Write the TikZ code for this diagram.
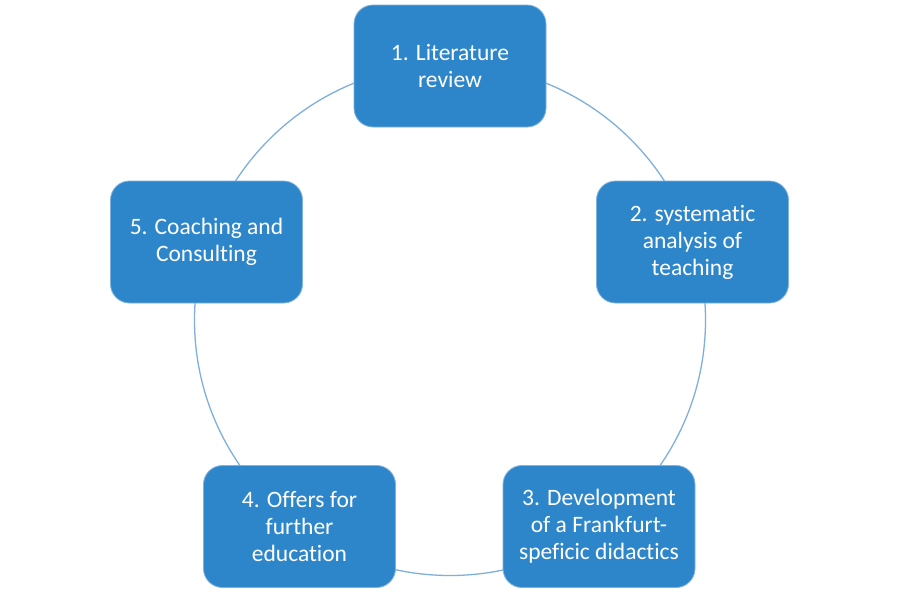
\documentclass[tikz,border=0pt]{standalone}
\usepackage{fontspec}
\setmainfont[Ligatures={NoCommon}]{Carlito}
\begin{document}
\begin{tikzpicture}[x=1pt,y=-1pt,
  stepbox/.style={rectangle, rounded corners=19pt, fill=boxblue, draw=boxedge, line width=0.8pt,
    minimum width=192pt, minimum height=122pt, text=white, align=center,
    font=\fontsize{23.5pt}{27pt}\selectfont, inner sep=0pt},
  ring/.style={draw=ringblue, line width=1.3pt}]
\definecolor{boxblue}{HTML}{2E86CA}
\definecolor{boxedge}{HTML}{7FB2DE}
\definecolor{ringblue}{HTML}{7FB0DC}
\useasboundingbox (0,0) rectangle (898,600);
\fill[white] (0,0) rectangle (898,600);
\coordinate (c) at (450,320);
\draw[ring] (c) circle[radius=255.5pt];
\node[stepbox] (s1) at (450,66) {1. Literature\\review};
\node[stepbox] (s2) at (692.5,242) {2. systematic\\analysis of\\teaching};
\node[stepbox] (s3) at (599,526.5) {3. Development\\of a Frankfurt-\\speficic didactics};
\node[stepbox] (s4) at (299.5,526.5) {4. Offers for\\further\\education};
\node[stepbox] (s5) at (206.5,242) {5. Coaching and\\Consulting};
\end{tikzpicture}
\end{document}
